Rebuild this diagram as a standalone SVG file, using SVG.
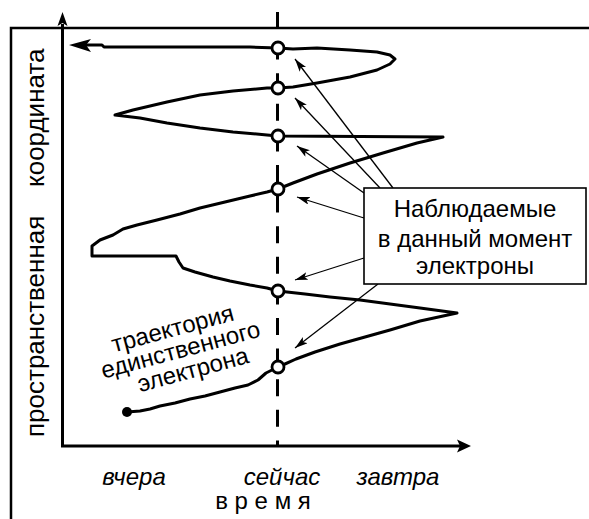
<svg xmlns="http://www.w3.org/2000/svg" width="589" height="519" viewBox="0 0 589 519">
<style>
text{font-family:"Liberation Sans",Arial,sans-serif;fill:#000}
.lbl{font-size:24px}
.it{font-size:24px;font-style:italic;text-anchor:middle}
.ax{fill:none;stroke:#000;stroke-width:3}
.traj{fill:none;stroke:#000;stroke-width:3;stroke-linejoin:round;stroke-linecap:round}
.obs{fill:#fff;stroke:#000;stroke-width:2.8}
.call{fill:none;stroke:#000;stroke-width:1.3}
</style>
<defs>
<marker id="ah" markerUnits="userSpaceOnUse" markerWidth="14" markerHeight="10" refX="13" refY="4" orient="auto">
<path d="M0,0 L13,4 L0,8 L3,4 z" fill="#000"/>
</marker>
</defs>
<g id="frame">
<path d="M11,519 V28 H589" fill="none" stroke="#000" stroke-width="2.5"/>
</g>
<g id="axes">
<path class="ax" d="M62.5,446 V24"/>
<polygon points="62.5,12 57.5,26 62.5,23 67.5,26" fill="#000"/>
<path class="ax" d="M61,446 H460"/>
<polygon points="471,446 457,439.5 460,446 457,452.5" fill="#000"/>
<path d="M277.5,12 V446" fill="none" stroke="#000" stroke-width="3" stroke-dasharray="17 13.6"/>
</g>
<g id="trajectory">
<path class="traj" d="M127,412 L140,411 L150,409 L160,406 L175,403 L190,399 L205,396 L220,392 L235,388 L248,385 L258,380 L266,373 L278,367 L285,364 L296,359 L315,352 L340,344 L365,337 L390,330 L420,321 L457,313 L420,308 L390,304 L360,300 L330,297 L305,294 L278,291 L267,288 L250,285 L230,281 L213,277 L195,272 L183,268 L179,262 L176,256 L92,256 L92,246 L100,240 L113,235 L123,229 L137,225 L157,220 L180,214 L200,208 L225,202 L250,196 L267,192 L278,189 L293,183 L317,174 L350,163 L383,153 L417,143 L443,137 L278,136 L267,135 L233,132 L200,128 L167,123 L140,118 L115,115 L133,110 L167,102 L200,95 L233,91 L267,88 L278,88 L293,87 L317,83 L350,77 L377,70 L390,64 L395,59 L390,55 L377,52 L350,50 L317,48 L293,49 L278,48 L250,47 L200,47 L150,47 L104,47 L102,45 L86,45"/>
<polygon points="69,45 91,39 86,45 91,52" fill="#000"/>
<circle cx="127" cy="412" r="5" fill="#000"/>
</g>
<g id="electrons">
<circle class="obs" cx="278" cy="48" r="6"/>
<circle class="obs" cx="278" cy="88" r="6"/>
<circle class="obs" cx="278" cy="136" r="6"/>
<circle class="obs" cx="278" cy="189" r="6"/>
<circle class="obs" cx="278" cy="291" r="6"/>
<circle class="obs" cx="278" cy="367" r="6"/>
</g>
<g id="connectors">
<path class="call" d="M393,188 L295,59" marker-end="url(#ah)"/>
<path class="call" d="M380,188 L295,98" marker-end="url(#ah)"/>
<path class="call" d="M364,193 L297,146" marker-end="url(#ah)"/>
<path class="call" d="M364,218 L297,197" marker-end="url(#ah)"/>
<path class="call" d="M364,258 L295,280" marker-end="url(#ah)"/>
<path class="call" d="M378,284 L295,348" marker-end="url(#ah)"/>
</g>
<g id="callout">
<rect x="364" y="188" width="222" height="96" fill="#fff" stroke="#000" stroke-width="1.6"/>
<text class="lbl" x="475" y="217" text-anchor="middle">Наблюдаемые</text>
<text class="lbl" x="475" y="247" text-anchor="middle">в данный момент</text>
<text class="lbl" x="475" y="274" text-anchor="middle">электроны</text>
</g>
<g id="trajectory-label" transform="translate(182.5,357.5) rotate(-15)">
<text class="lbl" x="-2" y="-22.5" text-anchor="middle">траектория</text>
<text class="lbl" x="0" y="0" text-anchor="middle">единственного</text>
<text class="lbl" x="7" y="22.5" text-anchor="middle">электрона</text>
</g>
<g id="y-label">
<text x="44" y="437" font-size="26" transform="rotate(-90 44 437)">пространственная</text>
<text x="44" y="187" font-size="26" transform="rotate(-90 44 187)">координата</text>
</g>
<g id="x-labels">
<text class="it" x="134" y="485">вчера</text>
<text class="it" x="282" y="485">сейчас</text>
<text class="it" x="398" y="485">завтра</text>
<text class="lbl" x="263" y="509" text-anchor="middle">в р е м я</text>
</g>
</svg>
